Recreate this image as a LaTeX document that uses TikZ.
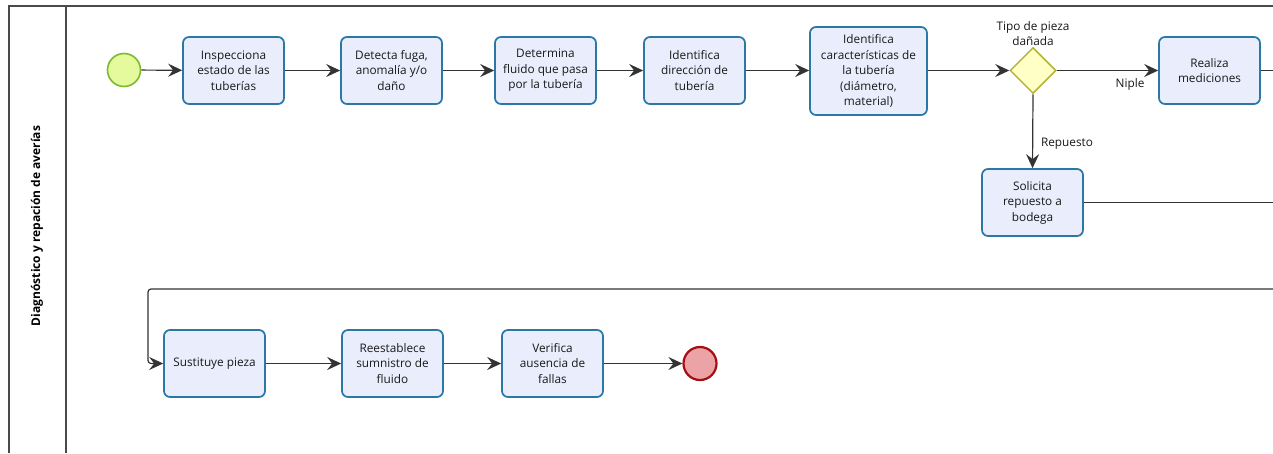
\documentclass[tikz,border=0pt]{standalone}
\usepackage{fontspec}
\setmainfont{Open Sans}
\usetikzlibrary{shapes.geometric,arrows.meta}
\definecolor{taskfill}{HTML}{EAEEFC}
\definecolor{taskline}{HTML}{2B78A6}
\definecolor{startfill}{HTML}{E4FA9C}
\definecolor{startline}{HTML}{7CBA2F}
\definecolor{endfill}{HTML}{EBA3A5}
\definecolor{endline}{HTML}{A50E12}
\definecolor{gwfill}{HTML}{FFFFC6}
\definecolor{gwline}{HTML}{B4B43A}
\definecolor{poolline}{HTML}{4A4A4A}
\definecolor{flowline}{HTML}{333333}
\tikzset{
  task/.style={rectangle, rounded corners=6pt, draw=taskline, fill=taskfill,
    line width=1.7pt, align=center, minimum width=101pt, minimum height=67pt,
    inner sep=2pt, text=black!90, font=\fontsize{11.8}{15.5}\selectfont},
  startev/.style={circle, draw=startline, fill=startfill, line width=1.6pt,
    minimum size=33pt, inner sep=0pt},
  endev/.style={circle, draw=endline, fill=endfill, line width=2.2pt,
    minimum size=33pt, inner sep=0pt},
  gateway/.style={diamond, draw=gwline, fill=gwfill, line width=1.5pt,
    minimum width=46pt, minimum height=46pt, inner sep=0pt},
  flow/.style={draw=flowline, line width=1.2pt,
    -{Stealth[length=14pt,width=13pt,inset=5pt]}},
  plain/.style={draw=flowline, line width=1.2pt},
  lbl/.style={font=\fontsize{11.8}{15.5}\selectfont, text=black!90, align=center, inner sep=0pt},
  pool/.style={draw=poolline, line width=1.4pt}
}
\begin{document}
\begin{tikzpicture}[x=1pt,y=-1pt]
\useasboundingbox (0,0) rectangle (1273,453);
\fill[white] (0,0) rectangle (1273,453);

% pool and lane frame
\draw[pool] (9,453) -- (9,6) -- (1273,6);
\draw[pool] (66,6) -- (66,453);
\node[rotate=90, font=\bfseries\fontsize{12}{14}\selectfont] (lane) at (37,226)
  {Diagnóstico y repación de averías};

% upper row
\node[startev] (start) at (124,70) {};
\node[task] (t1) at (233.5,70.5) {Inspecciona\\estado de las\\tuberías};
\node[task] (t2) at (391.5,70.5) {Detecta fuga,\\anomalía y/o\\daño};
\node[task] (t3) at (545.5,70.5) {Determina\\fluido que pasa\\por la tubería};
\node[task] (t4) at (694.5,70.5) {Identifica\\dirección de\\tubería};
\node[task, minimum width=117pt, minimum height=88pt] (t5) at (868.5,71)
  {Identifica\\características de\\la tubería\\(diámetro,\\material)};
\node[gateway] (gw) at (1033,70.5) {};
\node[lbl, anchor=south] (gwl) at (1033,46) {Tipo de pieza\\dañada};
\node[task] (t6) at (1209.5,70.5) {Realiza\\mediciones};
\node[task] (t7) at (1032.5,202.5) {Solicita\\repuesto a\\bodega};

% lower row
\node[task] (t8) at (214.5,363.5) {Sustituye pieza};
\node[task] (t9) at (392.5,363.5) {Reestablece\\sumnistro de\\fluido};
\node[task] (t10) at (552.5,363.5) {Verifica\\ausencia de\\fallas};
\node[endev] (end) at (700,363.5) {};

% flow labels
\node[lbl] (niple) at (1130,84) {Niple};
\node[lbl] (rep) at (1067,144) {Repuesto};

% loose ends at the right border
\coordinate (r6) at (1273,70.5);
\coordinate (r7) at (1273,202.5);
\coordinate (rl) at (1273,289);
\coordinate (lc) at (148,289);

% sequence flows
\draw[flow] (start) -- (t1);
\draw[flow] (t1) -- (t2);
\draw[flow] (t2) -- (t3);
\draw[flow] (t3) -- (t4);
\draw[flow] (t4) -- (t5.west |- t4.east);
\draw[flow] (t5.east |- gw.west) -- (gw.west);
\draw[flow] (gw.east) -- (t6.west);
\draw[flow] (gw.south) -- (t7.north);
\draw[plain] (t6.east) -- (r6);
\draw[plain] (t7.east) -- (r7);
\draw[flow, rounded corners=3pt] (rl) -- (lc) |- (t8.west);
\draw[flow] (t8) -- (t9);
\draw[flow] (t9) -- (t10);
\draw[flow] (t10) -- (end);
\end{tikzpicture}
\end{document}
